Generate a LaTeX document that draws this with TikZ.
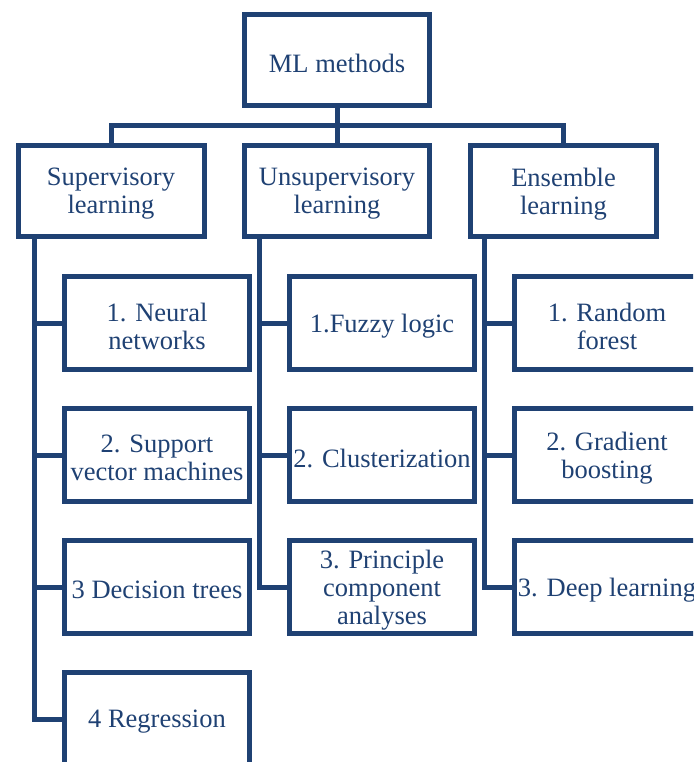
\documentclass[tikz,border=0pt]{standalone}
\usepackage{fontspec}
\setmainfont{Liberation Serif}
\usetikzlibrary{calc}
\definecolor{navy}{RGB}{31,65,115}
\begin{document}
\begin{tikzpicture}[x=1pt,y=1pt,
  lbl/.style={text=navy, align=center, font=\fontsize{26.5}{28}\selectfont,
    inner sep=0pt, yshift=-3pt},
  box/.style={draw=navy, line width=5pt, minimum width=185pt, minimum height=91pt,
    inner sep=0pt, label={[lbl]center:#1}},
  kid/.style={box=#1, minimum height=93pt},
  conn/.style={draw=navy, line width=5pt}]
\useasboundingbox (0,0) rectangle (693,-762);
\clip (0,0) rectangle (693,-762);
% top
\node[box={ML methods}] (top) at (337,-60) {};
% level 2
\node[box={Supervisory\\learning}, minimum width=186pt] (sup) at (111,-191) {};
\node[box={Unsupervisory\\learning}] (uns) at (337,-191) {};
\node[box={Ensemble\\learning}, minimum width=186pt] (ens) at (563.5,-191) {};
% supervisory children
\node[kid={1. Neural\\networks}] (s1) at (157,-323) {};
\node[kid={2. Support\\vector machines}] (s2) at (157,-455) {};
\node[kid={3 Decision trees}] (s3) at (157,-587) {};
\node[kid={4 Regression}] (s4) at (157,-719) {};
% unsupervisory children
\node[kid={1.Fuzzy logic}] (u1) at (382,-323) {};
\node[kid={2. Clusterization}] (u2) at (382,-455) {};
\node[kid={3. Principle\\component\\analyses}] (u3) at (382,-587) {};
% ensemble children
\node[kid={1. Random\\forest}] (e1) at (607,-323) {};
\node[kid={2. Gradient\\boosting}] (e2) at (607,-455) {};
\node[kid={3. Deep learning}] (e3) at (607,-587) {};
% top connectors
\coordinate (mid) at ($(top.south)!0.5!(uns.north)$);
\draw[conn] (top.south) -- (uns.north);
\draw[conn] (sup.north) |- (mid) -| (ens.north);
% trunks
\coordinate (st) at ([xshift=19pt]sup.south west);
\coordinate (ut) at ([xshift=17pt]uns.south west);
\coordinate (et) at ([xshift=16pt]ens.south west);
\draw[conn] (st) |- (s4.west);
\draw[conn] (st |- s1.west) -- (s1.west);
\draw[conn] (st |- s2.west) -- (s2.west);
\draw[conn] (st |- s3.west) -- (s3.west);
\draw[conn] (ut) |- (u3.west);
\draw[conn] (ut |- u1.west) -- (u1.west);
\draw[conn] (ut |- u2.west) -- (u2.west);
\draw[conn] (et) |- (e3.west);
\draw[conn] (et |- e1.west) -- (e1.west);
\draw[conn] (et |- e2.west) -- (e2.west);
\end{tikzpicture}
\end{document}
